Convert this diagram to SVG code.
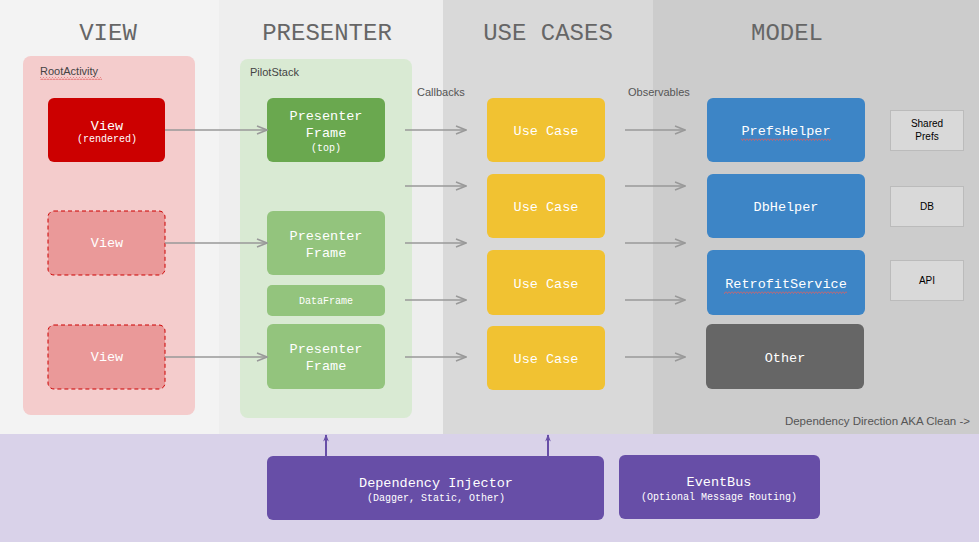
<svg xmlns="http://www.w3.org/2000/svg" width="979" height="542" viewBox="0 0 979 542">
<style>
.title{font-family:"Liberation Mono","Courier New",monospace;font-size:24px;fill:#666;text-anchor:middle}
.m{font-family:"Liberation Mono","Courier New",monospace;fill:#fff;text-anchor:middle}
.b{font-size:13.5px}
.s{font-size:10px}
.lbl{font-family:"Liberation Sans",Arial,sans-serif;font-size:11px;fill:#444}
.side{font-family:"Liberation Sans",Arial,sans-serif;font-size:10px;fill:#000;text-anchor:middle}
.arr{stroke:#999;stroke-width:1.5;fill:none;marker-end:url(#ga)}
.parr{stroke:#674ea7;stroke-width:2;fill:none;marker-end:url(#pa)}
.sq{fill:url(#wave)}
</style>
<defs>
<pattern id="wave" x="0" y="0" width="3" height="3" patternUnits="userSpaceOnUse">
<path d="M0,0.5 L1.5,2.5 L3,0.5" fill="none" stroke="#e06060" stroke-width="0.8"/>
</pattern>
<marker id="ga" viewBox="0 0 12 10" refX="11" refY="5" markerWidth="12" markerHeight="10" markerUnits="userSpaceOnUse" orient="auto">
<path d="M1,1 L11,5 L1,9" fill="none" stroke="#999" stroke-width="1.5"/>
</marker>
<marker id="pa" viewBox="0 0 10 14" refX="9" refY="5" markerWidth="14" markerHeight="10" markerUnits="userSpaceOnUse" orient="auto">
<path d="M0,1 L10,5 L0,9 L3,5 Z" fill="#674ea7"/>
</marker>
</defs>
<g id="bands">
<rect x="0" y="0" width="219" height="434" fill="#f3f3f3"/>
<rect x="219" y="0" width="224" height="434" fill="#eeeeee"/>
<rect x="443" y="0" width="210" height="434" fill="#d9d9d9"/>
<rect x="653" y="0" width="326" height="434" fill="#cccccc"/>
<rect x="0" y="434" width="979" height="108" fill="#d9d2e9"/>
<text class="title" x="108" y="40">VIEW</text>
<text class="title" x="327" y="40">PRESENTER</text>
<text class="title" x="548" y="40">USE CASES</text>
<text class="title" x="787" y="40">MODEL</text>
<text class="lbl" x="970" y="425" text-anchor="end" style="font-size:11.5px;fill:#555">Dependency Direction AKA Clean -&gt;</text>
</g>
<g id="rootActivity">
<rect x="23" y="56" width="172" height="359" rx="8" fill="#f4cccc"/>
<text class="lbl" x="40" y="75">RootActivity</text>
<rect class="sq" x="40" y="77" width="62" height="3"/>
</g>
<g id="pilotStack">
<rect x="240" y="59" width="172" height="359" rx="8" fill="#d9ead3"/>
<text class="lbl" x="250" y="76">PilotStack</text>
</g>
<g id="view1">
<rect x="48" y="98" width="117" height="64" rx="6" fill="#cc0000"/>
<text class="m b" x="107" y="130">View</text>
<text class="m s" x="107" y="142">(rendered)</text>
</g>
<g id="view2">
<rect x="48" y="211" width="117" height="64" rx="6" fill="#ea9999" stroke="#cc0000" stroke-dasharray="4,3"/>
<text class="m b" x="107" y="247">View</text>
</g>
<g id="view3">
<rect x="48" y="325" width="117" height="64" rx="6" fill="#ea9999" stroke="#cc0000" stroke-dasharray="4,3"/>
<text class="m b" x="107" y="361">View</text>
</g>
<g id="presenter1">
<rect x="267" y="98" width="118" height="64" rx="6" fill="#6aa84f"/>
<text class="m b" x="326" y="120">Presenter</text>
<text class="m b" x="326" y="137">Frame</text>
<text class="m s" x="326" y="151">(top)</text>
</g>
<g id="presenter2">
<rect x="267" y="211" width="118" height="64" rx="6" fill="#93c47d"/>
<text class="m b" x="326" y="240">Presenter</text>
<text class="m b" x="326" y="257">Frame</text>
</g>
<g id="dataFrame">
<rect x="267" y="285" width="118" height="31" rx="5" fill="#93c47d"/>
<text class="m" x="326" y="304" style="font-size:10px">DataFrame</text>
</g>
<g id="presenter3">
<rect x="267" y="324" width="118" height="65" rx="6" fill="#93c47d"/>
<text class="m b" x="326" y="353">Presenter</text>
<text class="m b" x="326" y="370">Frame</text>
</g>
<g id="useCase1">
<rect x="487" y="98" width="118" height="64" rx="6" fill="#f1c232"/>
<text class="m b" x="546" y="135">Use Case</text>
</g>
<g id="useCase2">
<rect x="487" y="174" width="118" height="64" rx="6" fill="#f1c232"/>
<text class="m b" x="546" y="211">Use Case</text>
</g>
<g id="useCase3">
<rect x="487" y="250" width="118" height="65" rx="6" fill="#f1c232"/>
<text class="m b" x="546" y="288">Use Case</text>
</g>
<g id="useCase4">
<rect x="487" y="326" width="118" height="64" rx="6" fill="#f1c232"/>
<text class="m b" x="546" y="363">Use Case</text>
</g>
<g id="prefsHelper">
<rect x="707" y="98" width="158" height="64" rx="6" fill="#3d85c6"/>
<text class="m b" x="786" y="135">PrefsHelper</text>
<rect class="sq" x="741" y="138" width="90" height="3"/>
</g>
<g id="dbHelper">
<rect x="707" y="174" width="158" height="64" rx="6" fill="#3d85c6"/>
<text class="m b" x="786" y="211">DbHelper</text>
</g>
<g id="retrofitService">
<rect x="707" y="250" width="158" height="65" rx="6" fill="#3d85c6"/>
<text class="m b" x="786" y="288">RetrofitService</text>
<rect class="sq" x="724" y="291" width="123" height="3"/>
</g>
<g id="other">
<rect x="706" y="324" width="158" height="65" rx="6" fill="#666666"/>
<text class="m b" x="785" y="362">Other</text>
</g>
<g id="sharedPrefs">
<rect x="890.5" y="110.5" width="73" height="40" fill="#d9d9d9" stroke="#bbb"/>
<text class="side" x="927" y="127">Shared</text>
<text class="side" x="927" y="140">Prefs</text>
</g>
<g id="db">
<rect x="890.5" y="186.5" width="73" height="40" fill="#d9d9d9" stroke="#bbb"/>
<text class="side" x="927" y="210">DB</text>
</g>
<g id="api">
<rect x="890.5" y="260.5" width="73" height="40" fill="#d9d9d9" stroke="#bbb"/>
<text class="side" x="927" y="284">API</text>
</g>
<g id="dependencyInjector">
<rect x="267" y="456" width="337" height="64" rx="6" fill="#674ea7"/>
<text class="m b" x="436" y="487">Dependency Injector</text>
<text class="m s" x="436" y="501">(Dagger, Static, Other)</text>
</g>
<g id="eventBus">
<rect x="619" y="455" width="201" height="64" rx="6" fill="#674ea7"/>
<text class="m b" x="719" y="486">EventBus</text>
<text class="m s" x="719" y="500">(Optional Message Routing)</text>
</g>
<g id="connectors">
<text class="lbl" x="417" y="96" style="fill:#555">Callbacks</text>
<text class="lbl" x="628" y="96" style="fill:#555">Observables</text>
<line class="arr" x1="165" y1="130" x2="267" y2="130"/>
<line class="arr" x1="165" y1="243" x2="267" y2="243"/>
<line class="arr" x1="165" y1="357" x2="267" y2="357"/>
<line class="arr" x1="405" y1="130" x2="466" y2="130"/>
<line class="arr" x1="405" y1="186" x2="466" y2="186"/>
<line class="arr" x1="405" y1="243" x2="466" y2="243"/>
<line class="arr" x1="405" y1="300" x2="466" y2="300"/>
<line class="arr" x1="405" y1="357" x2="466" y2="357"/>
<line class="arr" x1="625" y1="130" x2="685" y2="130"/>
<line class="arr" x1="625" y1="186" x2="685" y2="186"/>
<line class="arr" x1="625" y1="243" x2="685" y2="243"/>
<line class="arr" x1="625" y1="300" x2="685" y2="300"/>
<line class="arr" x1="625" y1="357" x2="685" y2="357"/>
<line class="parr" x1="326" y1="470" x2="326" y2="435"/>
<line class="parr" x1="548" y1="470" x2="548" y2="435"/>
</g>
</svg>
